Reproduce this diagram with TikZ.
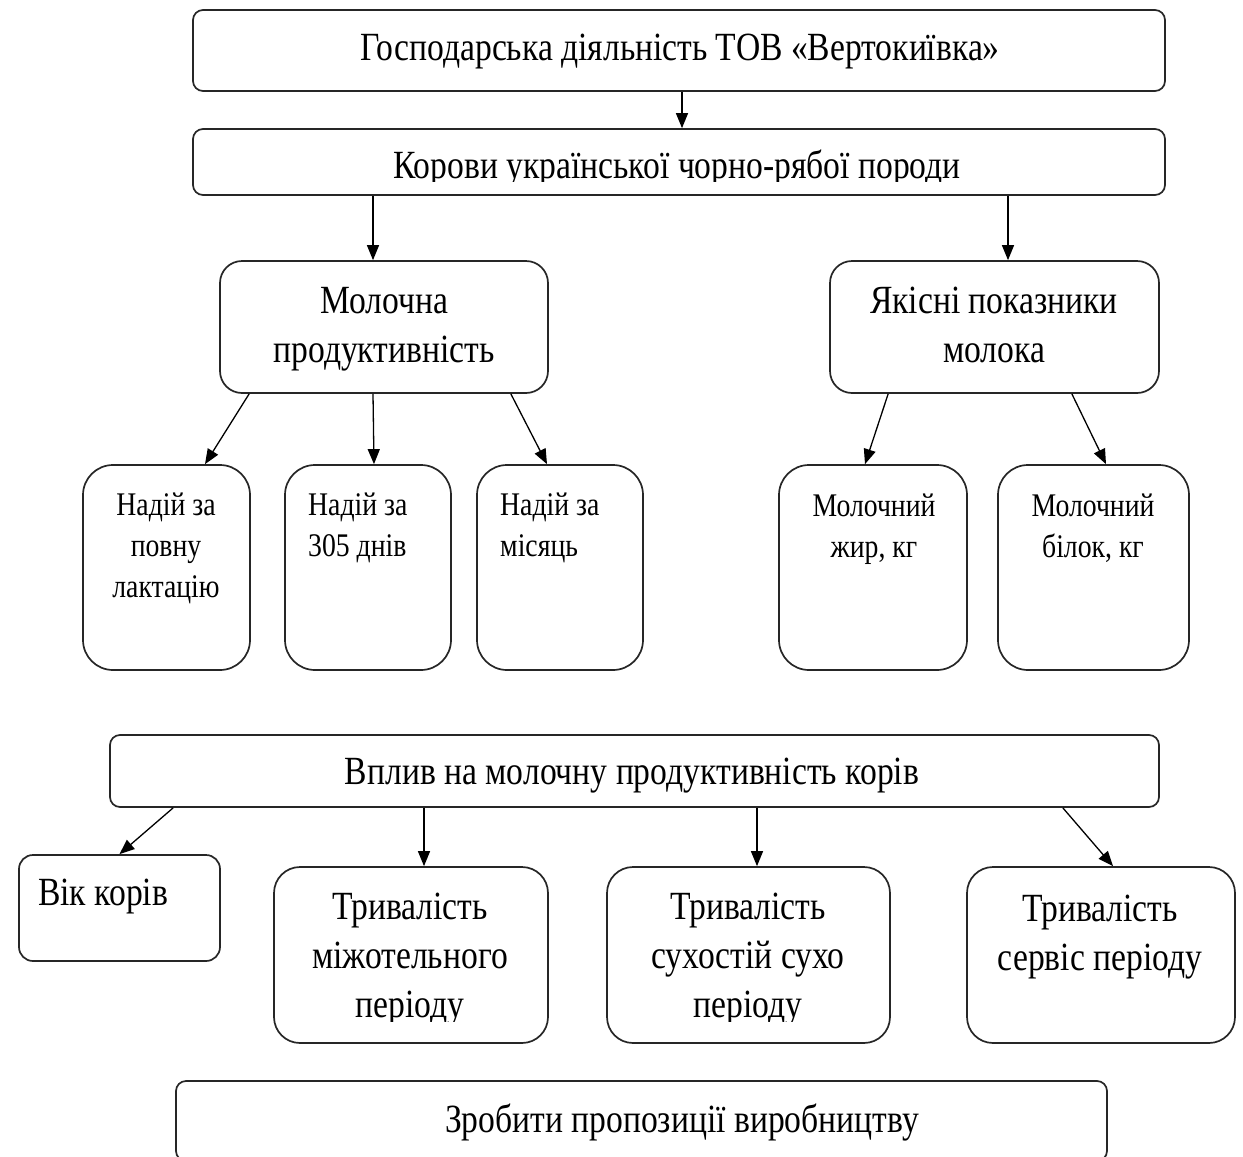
\documentclass[tikz,border=0pt]{standalone}
\usepackage{fontspec}
\setmainfont[FakeStretch=0.84]{Liberation Serif}
\usetikzlibrary{arrows.meta,calc}
\begin{document}
\begin{tikzpicture}[x=1pt,y=-1pt,
  box/.style={draw=black!85,line width=1.7pt,inner sep=0pt,fill=white},
  bigtxt/.style={inner sep=0pt,anchor=base,font=\fontsize{40}{49}\selectfont,align=center},
  smtxt/.style={inner sep=0pt,anchor=base,font=\fontsize{33}{41}\selectfont},
  arr/.style={line width=1.3pt,-{Triangle[length=15pt,width=12pt]}}]
\useasboundingbox (0,0) rectangle (1243,1157);
% boxes
\node[box,rounded corners=10pt,minimum width=972pt,minimum height=81pt] (top) at (679,50.5) {};
\node[box,rounded corners=10pt,minimum width=972pt,minimum height=66pt] (cows) at (679,162) {};
\node[box,rounded corners=22pt,minimum width=328pt,minimum height=132pt] (mol) at (384,327) {};
\node[box,rounded corners=22pt,minimum width=329pt,minimum height=132pt] (qual) at (994.5,327) {};
\node[box,rounded corners=30pt,minimum width=167pt,minimum height=205pt] (a) at (166.5,567.5) {};
\node[box,rounded corners=30pt,minimum width=166pt,minimum height=205pt] (b) at (368,567.5) {};
\node[box,rounded corners=30pt,minimum width=166pt,minimum height=205pt] (c) at (560,567.5) {};
\node[box,rounded corners=30pt,minimum width=188pt,minimum height=205pt] (d) at (873,567.5) {};
\node[box,rounded corners=30pt,minimum width=191pt,minimum height=205pt] (e) at (1093.5,567.5) {};
\node[box,rounded corners=10pt,minimum width=1049pt,minimum height=72pt] (infl) at (634.5,771) {};
\node[box,rounded corners=14pt,minimum width=201pt,minimum height=106pt] (age) at (119.5,908) {};
\node[box,rounded corners=26pt,minimum width=274pt,minimum height=176pt] (mizh) at (411,955) {};
\node[box,rounded corners=26pt,minimum width=283pt,minimum height=176pt] (sukh) at (748.5,955) {};
\node[box,rounded corners=26pt,minimum width=268pt,minimum height=176pt] (serv) at (1101,955) {};
\node[box,rounded corners=10pt,minimum width=931pt,minimum height=80pt] (fin) at (641.5,1121) {};
% texts (base anchor = baseline of the last line)
\node[bigtxt] (ttop) at (680,60) {Господарська діяльність ТОВ «Вертокиївка»};
\begin{scope}
\clip (193,130) rectangle (1165,181);
\node[bigtxt] (tcows) at (677,178) {Корови української чорно-рябої породи};
\end{scope}
\node[bigtxt] (tmol) at (384,362) {Молочна\\продуктивність};
\node[bigtxt] (tqual) at (994,362) {Якісні показники\\молока};
\node[smtxt,align=center] (ta) at (166,597) {Надій за\\повну\\лактацію};
\node[smtxt,align=left,anchor=base west] (tb) at (308,556) {Надій за\\305 днів};
\node[smtxt,align=left,anchor=base west] (tc) at (500,556) {Надій за\\місяць};
\node[smtxt,align=center] (td) at (874,557) {Молочний\\жир, кг};
\node[smtxt,align=center] (te) at (1093,557) {Молочний\\білок, кг};
\node[bigtxt] (tinfl) at (632,784) {Вплив на молочну продуктивність корів};
\node[bigtxt,anchor=base west] (tage) at (38,905) {Вік корів};
\begin{scope}
\clip (274,869) rectangle (1000,1021);
\node[bigtxt] (tmizh) at (410,1017) {Тривалість\\міжотельного\\періоду};
\node[bigtxt] (tsukh) at (748,1017) {Тривалість\\сухостій сухо\\періоду};
\end{scope}
\node[bigtxt] (tserv) at (1100,970) {Тривалість\\сервіс періоду};
\node[bigtxt] (tfin) at (682,1132) {Зробити пропозиції виробництву};
% arrows
\draw[arr] ([xshift=3pt]top.south) -- ([xshift=3pt]cows.north);
\draw[arr] ([xshift=-11pt]mol.north |- cows.south) -- ([xshift=-11pt]mol.north);
\draw[arr] ([xshift=13.5pt]qual.north |- cows.south) -- ([xshift=13.5pt]qual.north);
\draw[arr] ([xshift=30pt]mol.south west) -- ([xshift=38.5pt]a.north);
\draw[arr] ([xshift=-11pt]mol.south) -- ([xshift=6pt]b.north);
\draw[arr] ([xshift=-38pt]mol.south east) -- ([xshift=-13pt]c.north);
\draw[arr] ([xshift=59pt]qual.south west) -- ([xshift=-8pt]d.north);
\draw[arr] ([xshift=-88pt]qual.south east) -- ([xshift=12.5pt]e.north);
\draw[arr] ([xshift=64pt]infl.south west) -- (age.north);
\draw[arr] ([xshift=13pt]mizh.north |- infl.south) -- ([xshift=13pt]mizh.north);
\draw[arr] ([xshift=8.5pt]sukh.north |- infl.south) -- ([xshift=8.5pt]sukh.north);
\draw[arr] ([xshift=-97pt]infl.south east) -- ([xshift=12pt]serv.north);
\end{tikzpicture}
\end{document}
